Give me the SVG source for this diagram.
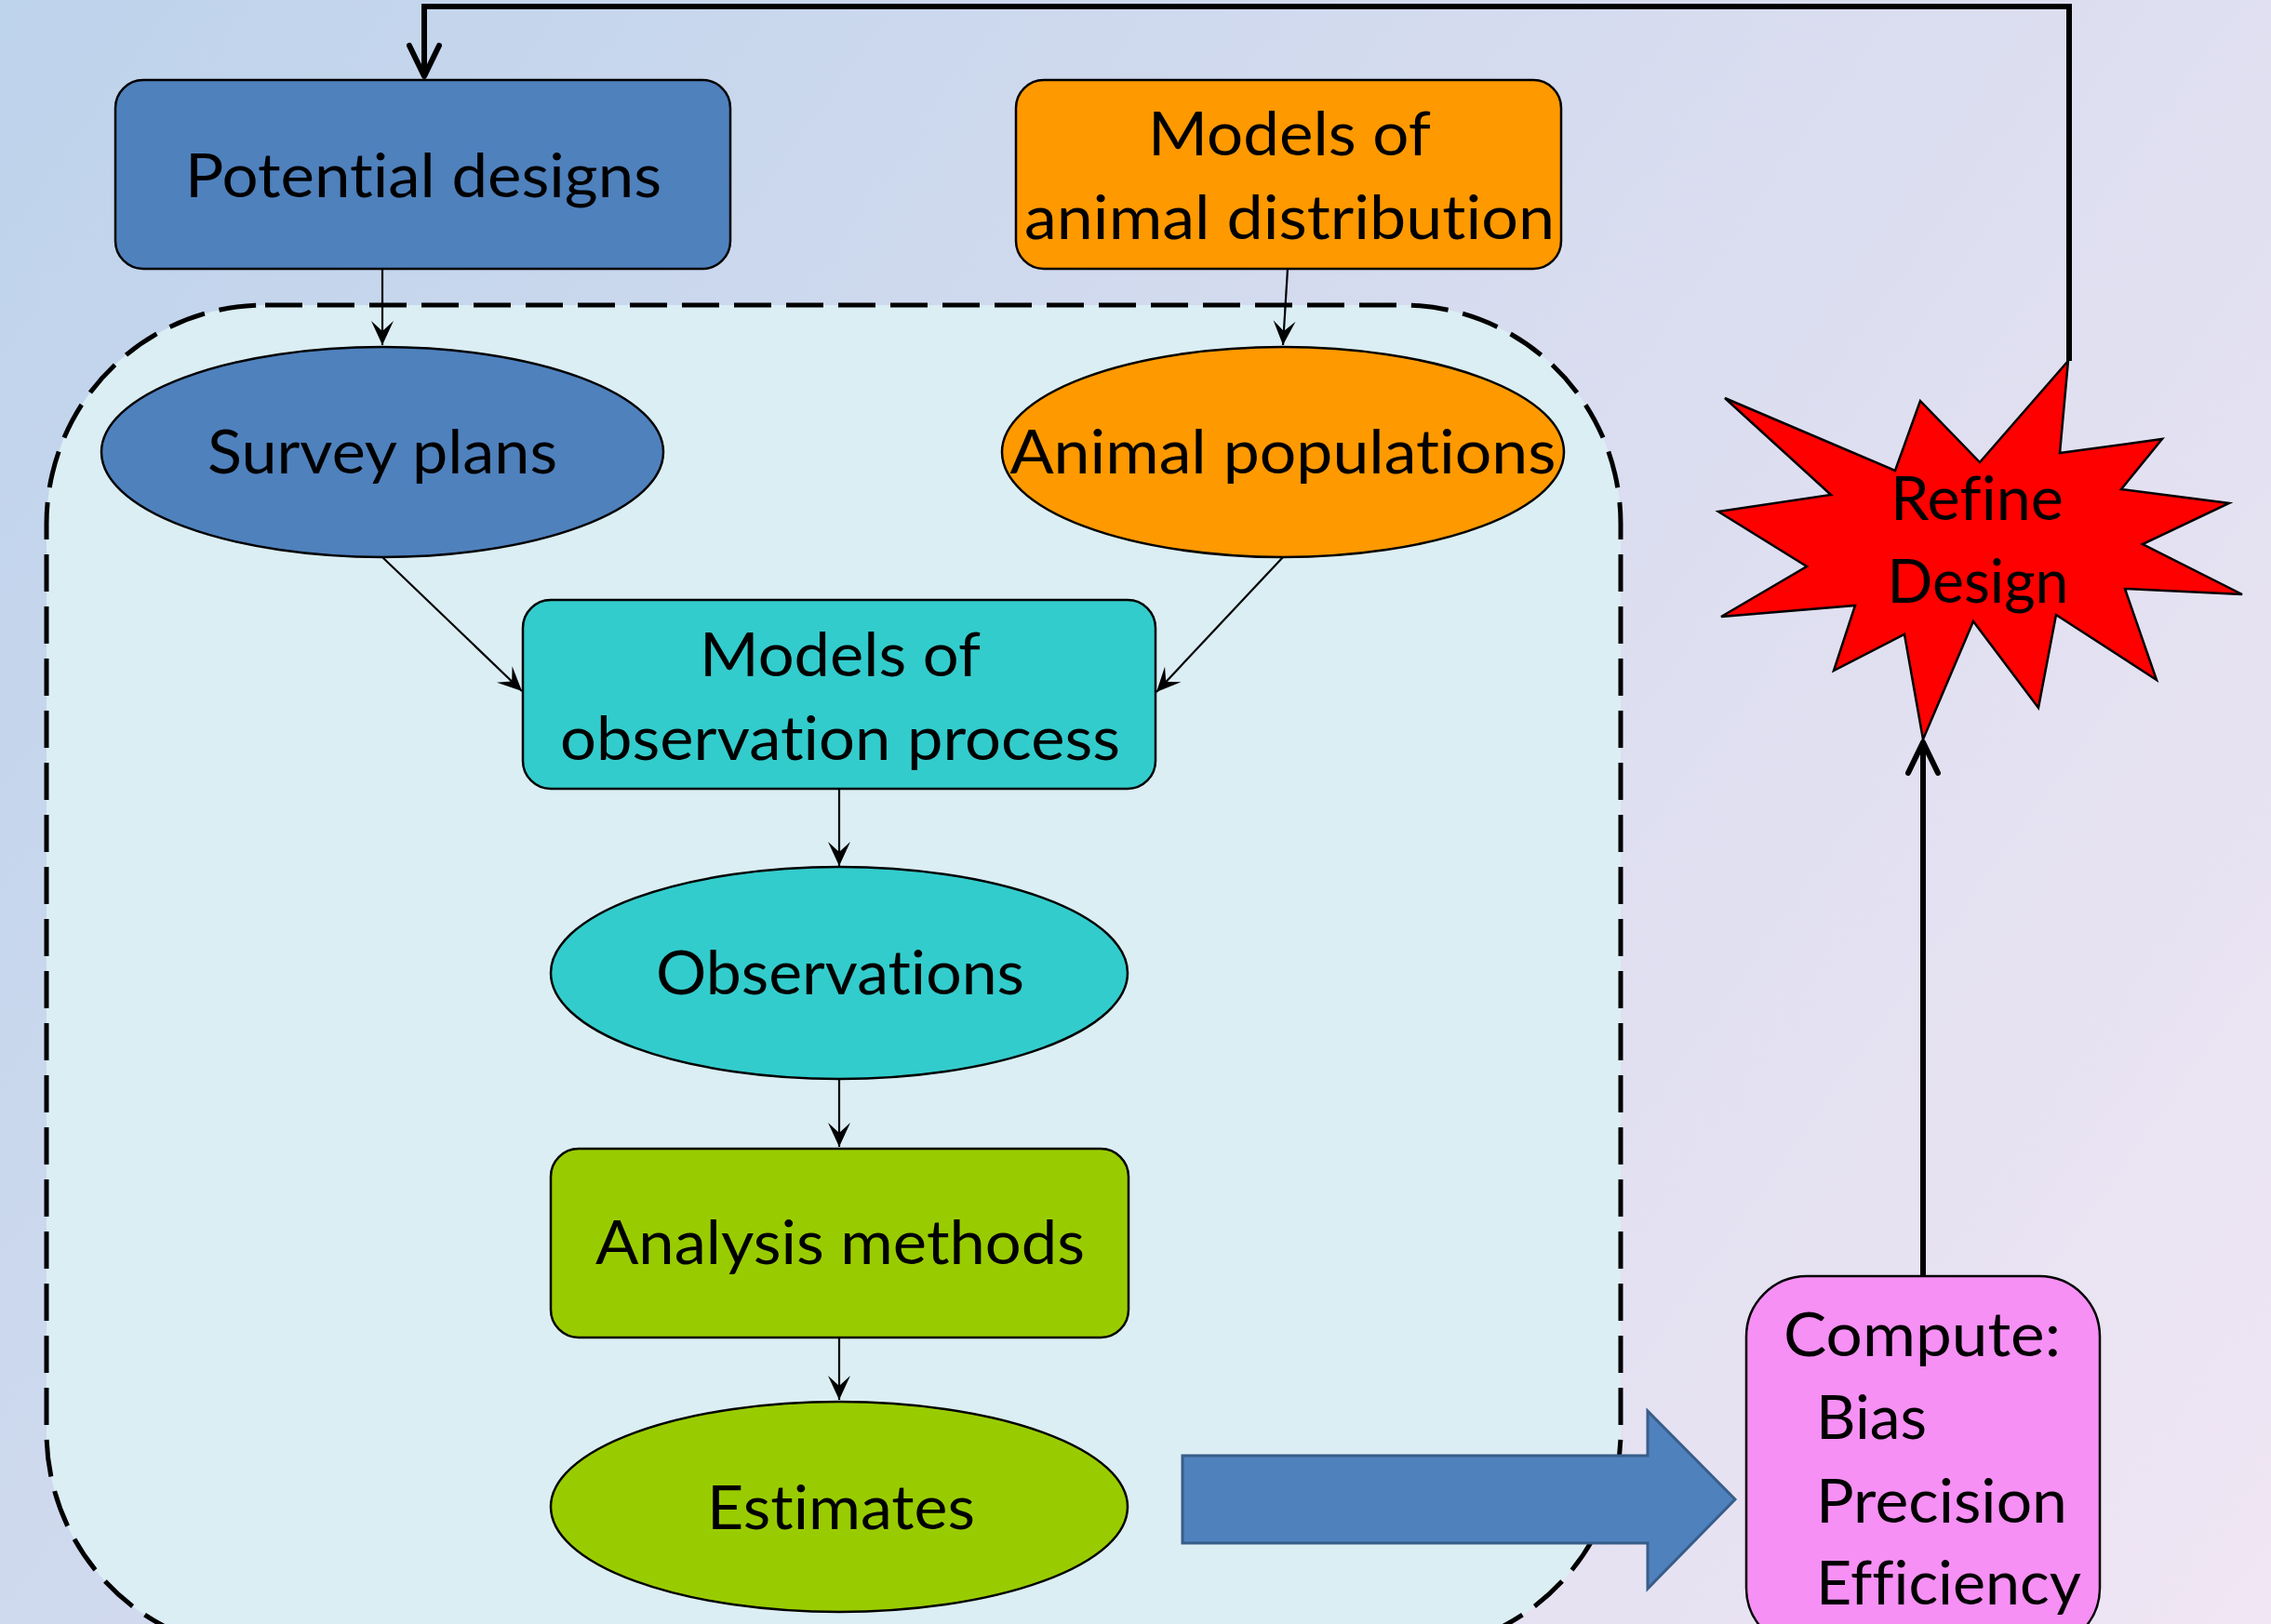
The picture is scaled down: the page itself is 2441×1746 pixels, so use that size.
<svg xmlns="http://www.w3.org/2000/svg" width="2441" height="1746" viewBox="0 0 2441 1746">
<defs>
<linearGradient id="bg" x1="0" y1="0" x2="2441" y2="1746" gradientUnits="userSpaceOnUse">
<stop offset="0" stop-color="#bdd3eb"/>
<stop offset="0.5" stop-color="#d7dcef"/>
<stop offset="1" stop-color="#f0e6f4"/>
</linearGradient>
<marker id="thin" markerUnits="userSpaceOnUse" viewBox="-30 -15 32 30" refX="0" refY="0" markerWidth="32" markerHeight="30" orient="auto" overflow="visible">
<path d="M0 0 L-26 -12 L-15 0 L-26 12 Z" fill="#000"/>
</marker>
<marker id="thick" markerUnits="userSpaceOnUse" viewBox="-40 -20 45 40" refX="0" refY="0" markerWidth="45" markerHeight="40" orient="auto" overflow="visible">
<path d="M-33 -16 L0 0 L-33 16" fill="none" stroke="#000" stroke-width="6" stroke-linecap="round" stroke-linejoin="round"/>
</marker>
</defs>
<style>
.t{font-family:"Lato","Liberation Sans",sans-serif;font-size:66px;fill:#000;text-anchor:middle;font-variant-ligatures:none;font-feature-settings:"liga" 0,"clig" 0,"dlig" 0}
.l{text-anchor:start}
.nd{stroke:#000;stroke-width:2.5}
.cn{fill:none;stroke:#000;stroke-width:2.2;marker-end:url(#thin)}
.fb{fill:none;stroke:#000;stroke-width:6;marker-end:url(#thick)}
</style>
<rect x="0" y="0" width="2441" height="1746" fill="url(#bg)"/>
<g id="region">
<rect x="50" y="328" width="1692" height="1447" rx="235" ry="235" fill="#dbeef4" stroke="#000" stroke-width="5" stroke-dasharray="40 16"/>
</g>
<g id="connectors">
<line class="cn" x1="411" y1="285" x2="411" y2="371"/>
<line class="cn" x1="1384" y1="289" x2="1379" y2="371"/>
<line class="cn" x1="411" y1="599" x2="561" y2="743"/>
<line class="cn" x1="1379" y1="599" x2="1243" y2="744"/>
<line class="cn" x1="902" y1="848" x2="902" y2="931"/>
<line class="cn" x1="902" y1="1160" x2="902" y2="1233"/>
<line class="cn" x1="902" y1="1438" x2="902" y2="1505"/>
<path class="fb" d="M2224 388 L2224 7 L456 7 L456 82"/>
<path class="fb" d="M2067 1372 L2067 798"/>
<path d="M1271 1565 L1771 1565 L1771 1517 L1865 1612 L1771 1708 L1771 1659 L1271 1659 Z" fill="#4f81bd" stroke="#385d8a" stroke-width="3"/>
</g>
<g id="potential-designs">
<rect class="nd" x="124" y="86" width="661" height="203" rx="30" fill="#4f81bd"/>
<text class="t" x="455" y="212" textLength="512" lengthAdjust="spacingAndGlyphs">Potential designs</text>
</g>
<g id="animal-distribution">
<rect class="nd" x="1092" y="86" width="586" height="203" rx="30" fill="#ff9900"/>
<text class="t" x="1386" y="167" textLength="304" lengthAdjust="spacingAndGlyphs">Models of</text>
<text class="t" x="1386" y="257" textLength="570" lengthAdjust="spacingAndGlyphs">animal distribution</text>
</g>
<g id="survey-plans">
<ellipse class="nd" cx="411" cy="486" rx="302" ry="113" fill="#4f81bd"/>
<text class="t" x="411" y="509" textLength="376" lengthAdjust="spacingAndGlyphs">Survey plans</text>
</g>
<g id="animal-populations">
<ellipse class="nd" cx="1379" cy="486" rx="302" ry="113" fill="#ff9900"/>
<text class="t" x="1379" y="509" textLength="587" lengthAdjust="spacingAndGlyphs">Animal populations</text>
</g>
<g id="observation-process">
<rect class="nd" x="562" y="645" width="680" height="203" rx="30" fill="#33cccc"/>
<text class="t" x="903" y="727" textLength="302" lengthAdjust="spacingAndGlyphs">Models of</text>
<text class="t" x="903" y="817" textLength="602" lengthAdjust="spacingAndGlyphs">observation process</text>
</g>
<g id="observations">
<ellipse class="nd" cx="902" cy="1046" rx="310" ry="114" fill="#33cccc"/>
<text class="t" x="903" y="1069" textLength="396" lengthAdjust="spacingAndGlyphs">Observations</text>
</g>
<g id="analysis-methods">
<rect class="nd" x="592" y="1235" width="621" height="203" rx="30" fill="#99cc00"/>
<text class="t" x="903" y="1359" textLength="526" lengthAdjust="spacingAndGlyphs">Analysis methods</text>
</g>
<g id="estimates">
<ellipse class="nd" cx="902" cy="1620" rx="310" ry="113" fill="#99cc00"/>
<text class="t" x="904" y="1644" textLength="288" lengthAdjust="spacingAndGlyphs">Estimates</text>
</g>
<g id="compute">
<rect class="nd" x="1877" y="1372" width="380" height="400" rx="65" fill="#f690f4"/>
<text class="t l" x="1917" y="1458" textLength="298" lengthAdjust="spacingAndGlyphs">Compute:</text>
<text class="t l" x="1952" y="1547" textLength="119" lengthAdjust="spacingAndGlyphs">Bias</text>
<text class="t l" x="1952" y="1637" textLength="270" lengthAdjust="spacingAndGlyphs">Precision</text>
<text class="t l" x="1952" y="1725" textLength="285" lengthAdjust="spacingAndGlyphs">Efficiency</text>
</g>
<g id="refine-design">
<polygon points="2223,388 2214,487 2324,472 2280,526 2396,541 2303,585 2410,639 2284,633 2318,731 2210,661 2191,761 2121,668 2067,795 2047,682 1971,721 1994,651 1850,663 1942,609 1847,550 1968,532 1854,428 2037,506 2064,431 2128,497" fill="#ff0000" stroke="#000" stroke-width="2.5" stroke-linejoin="miter"/>
<text class="t" x="2125" y="559" textLength="186" lengthAdjust="spacingAndGlyphs">Refine</text>
<text class="t" x="2126" y="648" textLength="195" lengthAdjust="spacingAndGlyphs">Design</text>
</g>
</svg>
